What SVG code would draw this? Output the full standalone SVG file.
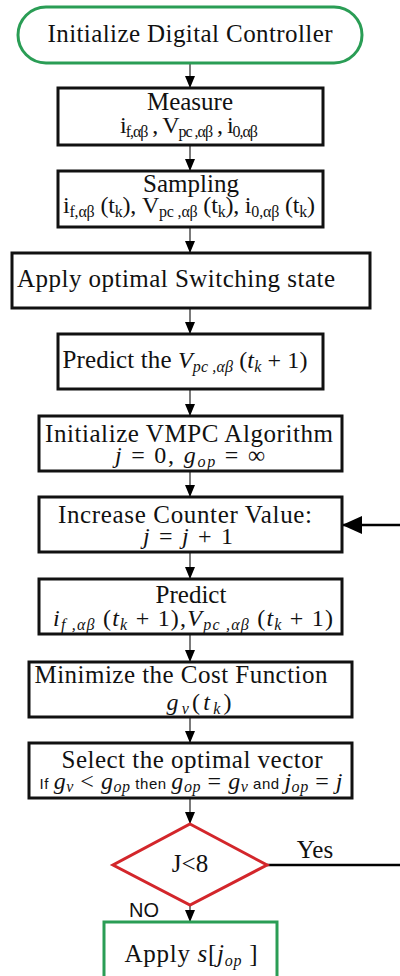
<svg xmlns="http://www.w3.org/2000/svg" width="400" height="976" viewBox="0 0 400 976">
  <defs>
    <marker id="head" viewBox="0 0 12 10" refX="12" refY="5" markerWidth="12" markerHeight="10" markerUnits="userSpaceOnUse" orient="auto">
      <path d="M0,0 L12,5 L0,10 Z" fill="#000"/>
    </marker>
    <marker id="bighead" viewBox="0 0 20 18" refX="20" refY="9" markerWidth="20" markerHeight="18" markerUnits="userSpaceOnUse" orient="auto">
      <path d="M0,0 L20,9 L0,18 Z" fill="#000"/>
    </marker>
  </defs>
  <style>
    .box { fill: #fff; stroke: #111; stroke-width: 3; }
    .green { fill: #fff; stroke: #2a9d55; stroke-width: 3; }
    .red { fill: #fff; stroke: #d3262b; stroke-width: 3; }
    .t { font-family: "Liberation Serif", "Times New Roman", serif; font-size: 25px; fill: #111; text-anchor: middle; }
    .m { font-family: "Liberation Serif", "Times New Roman", serif; font-size: 24px; fill: #111; text-anchor: middle; }
    .i { font-style: italic; }
    .s { font-size: 16px; }
    .sans { font-family: "Liberation Sans", Arial, sans-serif; }
    .flow { stroke: #222; stroke-width: 1.2; fill: none; marker-end: url(#head); }
    .loop { stroke: #000; stroke-width: 2.6; fill: none; }
  </style>

  <!-- connectors -->
  <g id="connectors">
    <line class="flow" x1="190" y1="63" x2="190" y2="88"/>
    <line class="flow" x1="190" y1="145" x2="190" y2="171"/>
    <line class="flow" x1="190" y1="227" x2="190" y2="253"/>
    <line class="flow" x1="190" y1="308" x2="190" y2="334"/>
    <line class="flow" x1="190" y1="389" x2="190" y2="416"/>
    <line class="flow" x1="190" y1="471" x2="190" y2="497"/>
    <line class="flow" x1="190" y1="552" x2="190" y2="579"/>
    <line class="flow" x1="190" y1="634" x2="190" y2="662"/>
    <line class="flow" x1="190" y1="717" x2="190" y2="743"/>
    <line class="flow" x1="190" y1="798" x2="190" y2="824"/>
    <line class="flow" x1="190" y1="905" x2="190" y2="922"/>
    <!-- loop back: Yes branch leaves to the right, returns into the counter step -->
    <line class="loop" x1="267" y1="865" x2="400" y2="865"/>
    <line class="loop" x1="400" y1="525" x2="342" y2="525" marker-end="url(#bighead)"/>
    <text class="t" x="315" y="858" font-size="23">Yes</text>
    <text class="sans" x="144" y="917" font-size="20" text-anchor="middle" fill="#111">NO</text>
  </g>

  <g id="init">
    <rect class="green" x="18" y="7" width="344" height="56" rx="28"/>
    <text class="t" x="190" y="42" font-size="26" textLength="285" lengthAdjust="spacing">Initialize Digital Controller</text>
  </g>

  <g id="measure">
    <rect class="box" x="58" y="88" width="265" height="57"/>
    <text class="t" x="190" y="110">Measure</text>
    <text class="m" x="189" y="133" font-size="20" textLength="138" lengthAdjust="spacing">i<tspan class="s" font-size="15" dy="4">f,αβ</tspan><tspan dy="-4"> , V</tspan><tspan class="s" font-size="15" dy="4">pc ,αβ</tspan><tspan dy="-4"> , i</tspan><tspan class="s" font-size="15" dy="4">0,αβ</tspan></text>
  </g>

  <g id="sampling">
    <rect class="box" x="58" y="171" width="265" height="56"/>
    <text class="t" x="191" y="192">Sampling</text>
    <text class="m" x="189" y="213" font-size="21" textLength="252" lengthAdjust="spacing">i<tspan class="s" font-size="15" dy="4">f,αβ</tspan><tspan dy="-4"> (t</tspan><tspan class="s" font-size="15" dy="4">k</tspan><tspan dy="-4">), V</tspan><tspan class="s" font-size="15" dy="4">pc ,αβ</tspan><tspan dy="-4"> (t</tspan><tspan class="s" font-size="15" dy="4">k</tspan><tspan dy="-4">), i</tspan><tspan class="s" font-size="15" dy="4">0,αβ</tspan><tspan dy="-4"> (t</tspan><tspan class="s" font-size="15" dy="4">k</tspan><tspan dy="-4">)</tspan></text>
  </g>

  <g id="apply-state">
    <rect class="box" x="12" y="253" width="358" height="55"/>
    <text class="t" x="176" y="287" font-size="26" textLength="318" lengthAdjust="spacing">Apply optimal Switching state</text>
  </g>

  <g id="predict-v">
    <rect class="box" x="58" y="334" width="265" height="55"/>
    <text class="t" x="185" y="368" textLength="245" lengthAdjust="spacing">Predict the <tspan class="i" font-size="24">V</tspan><tspan class="i s" dy="4">pc ,αβ</tspan><tspan font-size="24" dy="-4"> (</tspan><tspan class="i" font-size="24">t</tspan><tspan class="i s" dy="4">k</tspan><tspan font-size="24" dy="-4"> + 1)</tspan></text>
  </g>

  <g id="init-vmpc">
    <rect class="box" x="39" y="416" width="303" height="55"/>
    <text class="t" x="189" y="442" textLength="288" lengthAdjust="spacing">Initialize VMPC Algorithm</text>
    <text class="m" x="190" y="463" textLength="150" lengthAdjust="spacing"><tspan class="i">j</tspan> = 0, <tspan class="i">g</tspan><tspan class="i s" dy="4">op</tspan><tspan dy="-4"> = ∞</tspan></text>
  </g>

  <g id="increase">
    <rect class="box" x="39" y="497" width="303" height="55"/>
    <text class="t" x="185" y="523" textLength="254" lengthAdjust="spacing">Increase Counter Value:</text>
    <text class="m" x="188" y="544" textLength="90" lengthAdjust="spacing"><tspan class="i">j</tspan> = <tspan class="i">j</tspan> + 1</text>
  </g>

  <g id="predict">
    <rect class="box" x="39" y="579" width="303" height="55"/>
    <text class="t" x="191" y="603">Predict</text>
    <text class="m" x="193" y="626" textLength="280" lengthAdjust="spacing"><tspan class="i">i</tspan><tspan class="i s" dy="4">f ,αβ</tspan><tspan dy="-4"> (</tspan><tspan class="i">t</tspan><tspan class="i s" dy="4">k</tspan><tspan dy="-4"> + 1),</tspan><tspan class="i">V</tspan><tspan class="i s" dy="4">pc ,αβ</tspan><tspan dy="-4"> (</tspan><tspan class="i">t</tspan><tspan class="i s" dy="4">k</tspan><tspan dy="-4"> + 1)</tspan></text>
  </g>

  <g id="minimize">
    <rect class="box" x="29" y="662" width="323" height="55"/>
    <text class="t" x="181" y="683" textLength="293" lengthAdjust="spacing">Minimize the Cost Function</text>
    <text class="m" x="199" y="710" font-size="25" textLength="65" lengthAdjust="spacing"><tspan class="i">g</tspan><tspan class="i s" dy="4">v</tspan><tspan dy="-4">(</tspan><tspan class="i">t</tspan><tspan class="i s" dy="4">k</tspan><tspan dy="-4">)</tspan></text>
  </g>

  <g id="select">
    <rect class="box" x="29" y="743" width="323" height="55"/>
    <text class="t" x="192" y="768" textLength="261" lengthAdjust="spacing">Select the optimal vector</text>
    <text class="m" x="191" y="789" font-size="20" textLength="303" lengthAdjust="spacing"><tspan class="sans" font-size="15">If </tspan><tspan class="i">g</tspan><tspan class="i s" font-size="14" dy="3">v</tspan><tspan dy="-3"> &lt; </tspan><tspan class="i">g</tspan><tspan class="i s" font-size="14" dy="3">op</tspan><tspan class="sans" font-size="15" dy="-3"> then </tspan><tspan class="i">g</tspan><tspan class="i s" font-size="14" dy="3">op</tspan><tspan dy="-3"> = </tspan><tspan class="i">g</tspan><tspan class="i s" font-size="14" dy="3">v</tspan><tspan class="sans" font-size="15" dy="-3"> and </tspan><tspan class="i">j</tspan><tspan class="i s" font-size="14" dy="3">op</tspan><tspan dy="-3"> = </tspan><tspan class="i">j</tspan></text>
  </g>

  <g id="decision">
    <polygon class="red" points="190,824 267,865 190,905 113,865"/>
    <text class="t" x="190" y="872" font-size="23">J&lt;8</text>
  </g>

  <g id="apply-s">
    <rect class="green" x="104" y="922" width="173" height="60"/>
    <text class="t" x="191" y="962" font-size="26" textLength="133" lengthAdjust="spacing">Apply <tspan class="i" font-size="25">s</tspan><tspan font-size="25">[</tspan><tspan class="i" font-size="25">j</tspan><tspan class="i s" font-size="17" dy="4">op</tspan><tspan font-size="25" dy="-4"> ]</tspan></text>
  </g>
</svg>
